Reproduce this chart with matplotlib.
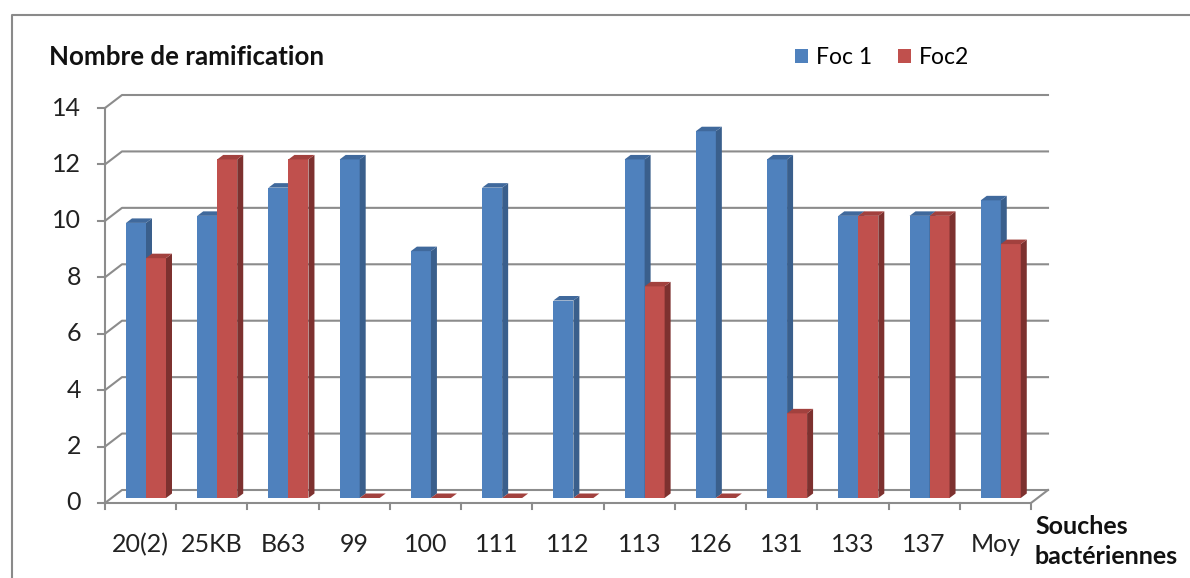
import matplotlib.pyplot as plt
from matplotlib.patches import Polygon

strains = ["20(2)", "25KB", "B63", "99", "100", "111", "112", "113",
           "126", "131", "133", "137", "Moy"]
foc1 = [9.75, 10, 11, 12, 8.75, 11, 7, 12, 13, 12, 10, 10, 10.55]
foc2 = [8.5, 12, 12, 0, 0, 0, 0, 7.5, 0, 3, 10, 10, 9]
yticks = [0, 2, 4, 6, 8, 10, 12, 14]

BLUE = ("#4f81bd", "#3a5f8c", "#40699c")   # front, side, top
RED = ("#c0504d", "#7d312f", "#a2413e")
GRID = "#8c8c8c"
FONT = "Lato"
FS = 18

W, H = 1190, 578
fig = plt.figure(figsize=(W / 100, H / 100), dpi=100)

# front plane of the 3-D box, in pixels from the top-left corner
x0, x1 = 105, 1031
y0, y1 = 503, 108
ax = fig.add_axes([x0 / W, (H - y0) / H, (x1 - x0) / W, (y0 - y1) / H])
n = len(strains)
ax.set_xlim(0, n)
ax.set_ylim(0, yticks[-1])
ax.axis("off")

px = n / (x1 - x0)            # data units per pixel, x
py = yticks[-1] / (y0 - y1)   # data units per pixel, y
wall_dx, wall_dy = 17 * px, 13 * py

# back wall gridlines with the diagonal on the left side wall
for v in yticks:
    ax.plot([0, wall_dx, n + wall_dx], [v, v + wall_dy, v + wall_dy],
            color=GRID, lw=1.5, clip_on=False, zorder=1)
    ax.plot([-7 * px, 0], [v, v], color=GRID, lw=1.5, clip_on=False, zorder=1)
    ax.text(-24 * px, v, str(v), ha="right", va="center", fontsize=FS,
            family=FONT, color="#222222")

# front axis, floor edge and category ticks
ax.plot([0, 0], [0, yticks[-1]], color=GRID, lw=1.5, clip_on=False, zorder=1)
ax.plot([0, n, n + wall_dx], [0, 0, wall_dy], color=GRID, lw=1.5,
        clip_on=False, zorder=1)
for i in range(n + 1):
    ax.plot([i, i], [0, -6 * py], color=GRID, lw=1.5, clip_on=False, zorder=1)

for i, s in enumerate(strains):
    ax.text(i + 0.5, -42 * py, s, ha="center", va="center", fontsize=FS,
            family=FONT, color="#222222")

# bars: front faces from ax.bar, then side and top faces from each patch
base = 5 * py
bw = 20 * px
bx = [i + 21 * px for i in range(n)]
bar_dx, bar_dy = 6 * px, 4.5 * py

b1 = ax.bar(bx, foc1, width=bw, bottom=base, align="edge", color=BLUE[0],
            lw=0, label="Foc 1", clip_on=False)
b2 = ax.bar([x + bw for x in bx], foc2, width=bw, bottom=base, align="edge",
            color=RED[0], lw=0, label="Foc2", clip_on=False)

for series, cols, k in ((b1, BLUE, 0), (b2, RED, 1)):
    for i, p in enumerate(series):
        z = 2 + 2 * i + k
        p.set_zorder(z)
        xl, w = p.get_x(), p.get_width()
        yb, h = p.get_y(), p.get_height()
        xr, yt = xl + w, yb + h
        side = Polygon([(xr, yb), (xr + bar_dx, yb + bar_dy),
                        (xr + bar_dx, yt + bar_dy), (xr, yt)],
                       closed=True, fc=cols[1], ec="none", zorder=z,
                       clip_on=False)
        top = Polygon([(xl, yt), (xl + bar_dx, yt + bar_dy),
                       (xr + bar_dx, yt + bar_dy), (xr, yt)],
                      closed=True, fc=cols[2], ec="none", zorder=z,
                      clip_on=False)
        ax.add_patch(side)
        ax.add_patch(top)

leg = ax.legend(loc="center left", bbox_to_anchor=(795 / W, 1 - 58 / H),
                bbox_transform=fig.transFigure, ncol=2, frameon=False,
                handlelength=0.55, handleheight=0.55, handletextpad=0.35,
                columnspacing=1.15, borderpad=0, borderaxespad=0,
                prop={"family": FONT, "size": 16.5})

fig.text(49 / W, 1 - 57 / H, "Nombre de ramification", ha="left",
         va="center", fontsize=18.6, fontweight="bold", family=FONT,
         color="#111111")
fig.text(1035 / W, 1 - 527 / H, "Souches", ha="left", va="center",
         fontsize=FS, fontweight="bold", family=FONT, color="#111111")
fig.text(1035 / W, 1 - 557 / H, "bactériennes", ha="left", va="center",
         fontsize=FS, fontweight="bold", family=FONT, color="#111111")

# chart frame (left and top edges)
fig.add_artist(plt.Line2D([12 / W, 12 / W, 1], [0, 1 - 15 / H, 1 - 15 / H],
                          transform=fig.transFigure, color="#8a8a8a", lw=1.5))

fig.savefig("out.png", dpi=100, facecolor="white")
